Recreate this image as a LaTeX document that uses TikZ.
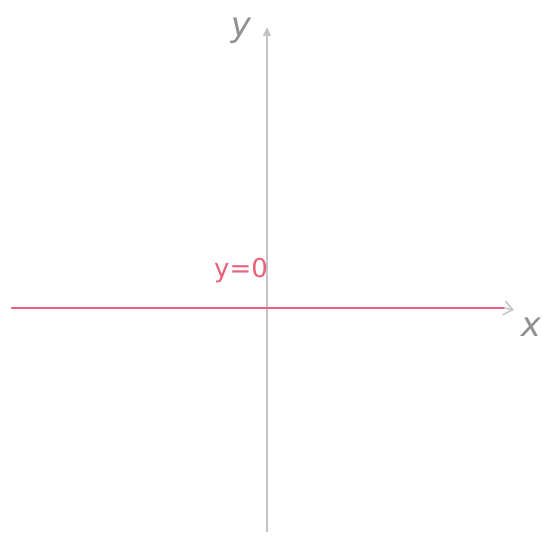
\documentclass[tikz,border=0pt]{standalone}
\usepackage{fontspec}
\setmainfont{DejaVu Sans}
\usetikzlibrary{arrows.meta}
\definecolor{axisgray}{HTML}{C4C4C4}
\definecolor{labgray}{HTML}{909090}
\definecolor{redline}{HTML}{E8607A}
\begin{document}
\begin{tikzpicture}[x=1pt,y=1pt,
  axis/.style={draw=axisgray,line width=1.4pt},
  lab/.style={text=labgray,font=\fontsize{34}{34}\selectfont\itshape,inner sep=0pt},
  redlab/.style={text=redline,font=\fontsize{26}{26}\selectfont,inner sep=0pt}]
\useasboundingbox (0,0) rectangle (543,537);
\coordinate (ybot) at (267,5);
\coordinate (ytop) at (267,510);
\coordinate (xl) at (12,229);
\coordinate (xr) at (504,229);
\coordinate (xtip) at (514,227);
\draw[axis,-{Triangle[length=9pt,width=8pt]}] (ybot) -- (ytop);
\draw[redline,line width=2.6pt,line cap=round] (xl) -- (xr);
\draw[axisgray,line width=1.5pt,-{Straight Barb[length=9pt,width=14pt]}] (xr) -- (xtip);
\node[lab] (ylab) at (241,506) {y};
\node[lab] (xlab) at (531,210) {x};
\node[redlab] (eq) at (241,266) {y=0};
\end{tikzpicture}
\end{document}
